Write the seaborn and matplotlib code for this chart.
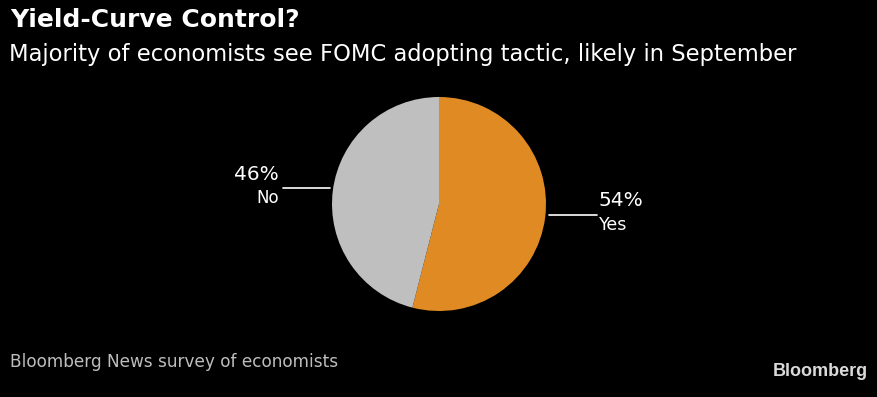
import matplotlib
matplotlib.use("Agg")
import matplotlib.pyplot as plt
import seaborn as sns

categories = ["Yes", "No"]
values = [54, 46]
pct_labels = ["54%", "46%"]
colors = ["#DF8A22", "#BFBFBF"]

sns.set_theme(style="dark", rc={"figure.facecolor": "black", "axes.facecolor": "black"})
plt.rcParams['font.family'] = ['DejaVu Sans']

W, H = 877, 397
fig = plt.figure(figsize=(W / 100, H / 100), dpi=100)
fig.patch.set_facecolor("black")

cx, cy, r = 439, 204, 107
ax = fig.add_axes([(cx - r) / W, 1 - (cy + r) / H, 2 * r / W, 2 * r / H])
ax.set_facecolor("black")
ax.pie(values, colors=colors, startangle=90, counterclock=False, radius=1,
       wedgeprops=dict(linewidth=0))
ax.set_xlim(-1, 1)
ax.set_ylim(-1, 1)
ax.set_aspect("auto")
ax.axis("off")

def px(x, y):
    return x / W, 1 - y / H

# leader lines
fig.add_artist(plt.Line2D([549 / W, 597 / W], [1 - 215 / H, 1 - 215 / H], color="white", lw=1.2))
fig.add_artist(plt.Line2D([283 / W, 330 / W], [1 - 188 / H, 1 - 188 / H], color="white", lw=1.2))

# labels
fig.text(*px(599, 201), pct_labels[0], color="white", fontsize=14.5, ha="left", va="center")
fig.text(*px(599, 225), categories[0], color="white", fontsize=12.5, ha="left", va="center")
fig.text(*px(279, 175), pct_labels[1], color="white", fontsize=14.5, ha="right", va="center")
fig.text(*px(279, 198), categories[1], color="white", fontsize=12, ha="right", va="center")

# titles
fig.text(*px(10, 20), "Yield-Curve Control?", color="white", fontsize=18, fontweight="bold",
         ha="left", va="center")
fig.text(*px(9, 55), "Majority of economists see FOMC adopting tactic, likely in September",
         color="white", fontsize=16.3, ha="left", va="center")
fig.text(*px(10, 362), "Bloomberg News survey of economists", color="#BDBDBD", fontsize=12.2,
         ha="left", va="center")
fig.text(*px(868, 371), "Bloomberg", color="#D9D9D9", fontsize=13, fontweight="bold",
         family=["Liberation Sans Narrow", "Liberation Sans", "DejaVu Sans"], ha="right", va="center")

fig.savefig("out.png", dpi=100, facecolor="black")
